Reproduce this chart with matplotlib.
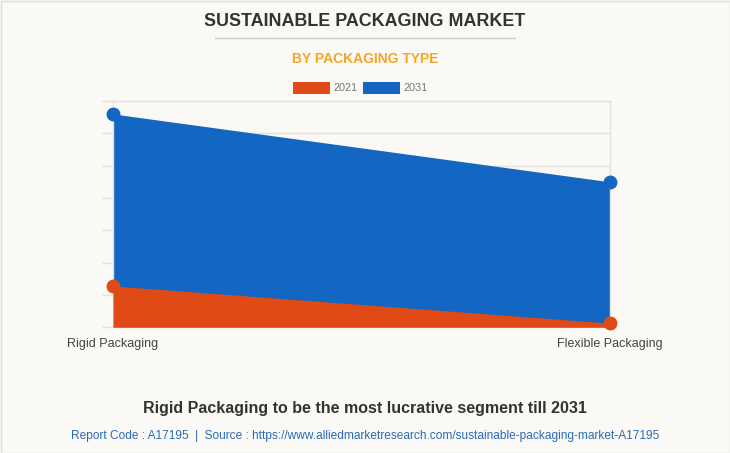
import matplotlib
matplotlib.use("Agg")
import matplotlib.pyplot as plt
from matplotlib.patches import Rectangle
from matplotlib.lines import Line2D

# --- Data --------------------------------------------------------------------
categories = ["Rigid Packaging", "Flexible Packaging"]
values_2021 = [64, 6.5]
values_2031 = [330, 225]
years = ["2021", "2031"]

# --- Style -------------------------------------------------------------------
BG = "#FAF9F5"
ORANGE = "#E04A16"
BLUE = "#1366C1"
GRID = "#E3E1DC"
plt.rcParams["font.family"] = ["Liberation Sans", "DejaVu Sans"]

W, H = 730, 453
fig = plt.figure(figsize=(W / 100, H / 100), dpi=100, facecolor=BG)


def fx(px):
    return px / W


def fy(py):
    return 1 - py / H


# outer border
fig.add_artist(Rectangle((0.5 / W, 0.5 / H), 1 - 1 / W, 1 - 1 / H, transform=fig.transFigure,
                         fill=False, edgecolor="#DDDDDD", linewidth=1))

fig.text(0.5, fy(21), "SUSTAINABLE PACKAGING MARKET", ha="center", va="center",
         fontsize=12.9, fontweight="bold", color="#333333")
fig.add_artist(Line2D([fx(215), fx(515)], [fy(37.5), fy(37.5)], transform=fig.transFigure,
                      color="#CCCCCC", linewidth=1))
fig.text(0.5, fy(59), "BY PACKAGING TYPE", ha="center", va="center",
         fontsize=10, fontweight="bold", color="#F5A623")

# legend
for x0, col, lab in [(293, ORANGE, years[0]), (363, BLUE, years[1])]:
    fig.add_artist(Rectangle((fx(x0), fy(94)), 37 / W, 12 / H, transform=fig.transFigure,
                             facecolor=col, edgecolor="none"))
    fig.text(fx(x0 + 41), fy(88), lab, ha="left", va="center", fontsize=7.8, color="#777777")

# --- Chart -------------------------------------------------------------------
ax = fig.add_axes([fx(113), fy(327.3), (610 - 113) / W, (327.3 - 101) / H])
ax.set_facecolor(BG)
x = list(range(len(categories)))

ax.fill_between(x, values_2031, color=BLUE, linewidth=0, zorder=2)
ax.plot(x, values_2031, color=BLUE, marker="o", markersize=9, linewidth=0, zorder=4,
        clip_on=False)
ax.fill_between(x, values_2021, color=ORANGE, linewidth=0, zorder=3)
ax.plot(x, values_2021, color=ORANGE, marker="o", markersize=9, linewidth=0, zorder=5,
        clip_on=False)

ax.set_xlim(0, 1)
ax.set_ylim(0, 350)
ax.set_yticks(range(0, 351, 50))
ax.set_yticklabels([])
ax.set_xticks(x)
ax.set_xticklabels(categories, fontsize=9, color="#444444")
ax.tick_params(axis="y", length=8, color=GRID, width=1)
ax.tick_params(axis="x", length=0, pad=8)
ax.grid(True, axis="y", color=GRID, linewidth=1, zorder=0)
ax.set_axisbelow(True)
for name, sp in ax.spines.items():
    sp.set_color(GRID)
    sp.set_linewidth(1)

fig.text(0.5, fy(408), "Rigid Packaging to be the most lucrative segment till 2031",
         ha="center", va="center", fontsize=11.5, fontweight="bold", color="#333333")
fig.text(0.5, fy(436),
         "Report Code : A17195  |  Source : https://www.alliedmarketresearch.com/sustainable-packaging-market-A17195",
         ha="center", va="center", fontsize=8.6, color="#2A6BB8")

fig.savefig("out.png", dpi=100, facecolor=BG)
